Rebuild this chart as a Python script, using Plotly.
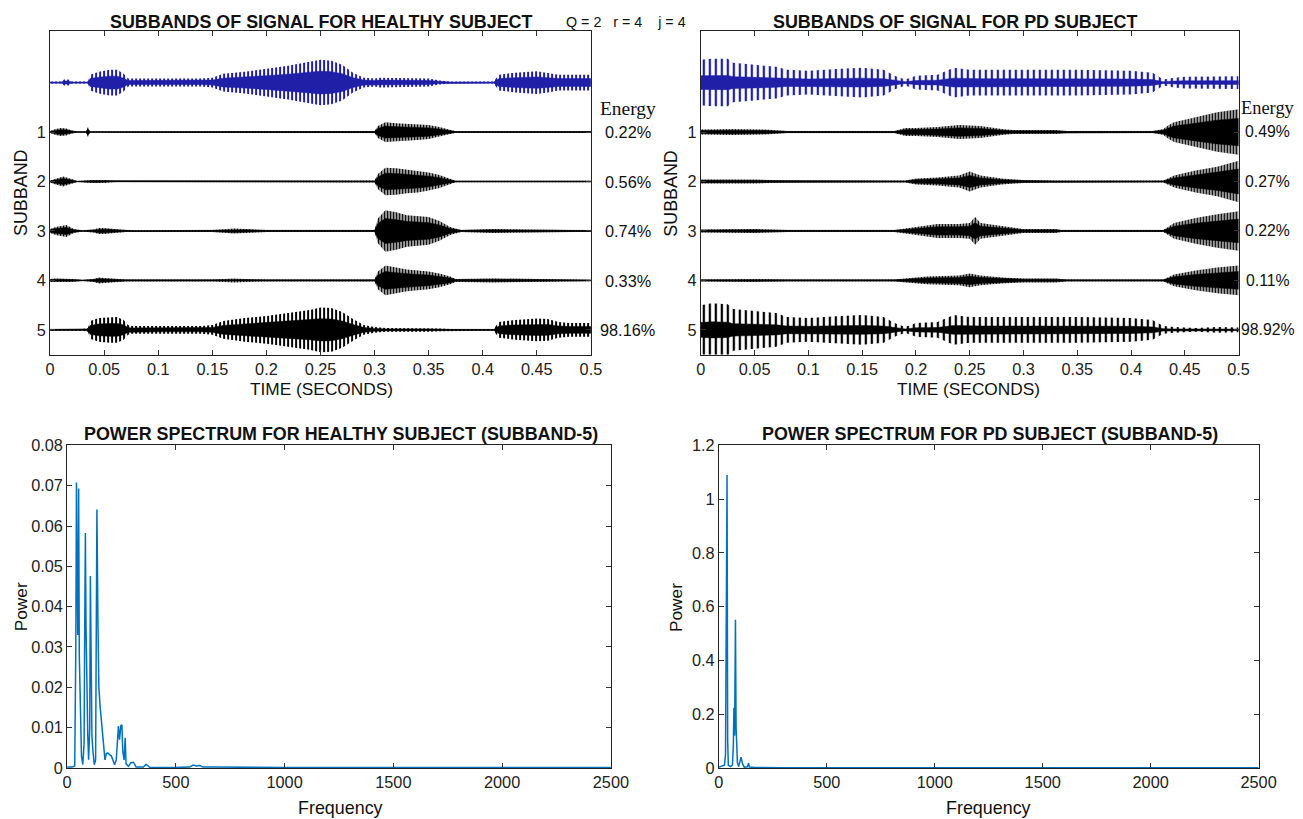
import plotly.graph_objects as go

# figure size (the page keeps its default 8px margin); large enough to cover the picture
PAGE_M = 8
W, H = 1320, 832
# measured relation between page pixels and the photographed picture
CAP_SX, CAP_SY, CAP_OX, CAP_OY = 0.983, 0.98, 4.0, 8.0
FS = 1 / CAP_SY

# ---------------- tick labels / categories ----------------
TIME_TICKS = [0, 0.05, 0.1, 0.15, 0.2, 0.25, 0.3, 0.35, 0.4, 0.45, 0.5]
TIME_TICK_LABELS = ["0", "0.05", "0.1", "0.15", "0.2", "0.25", "0.3", "0.35", "0.4", "0.45", "0.5"]
SUBBAND_ROWS = [1, 2, 3, 4, 5]
HEALTHY_ENERGY = ["0.22%", "0.56%", "0.74%", "0.33%", "98.16%"]
PD_ENERGY = ["0.49%", "0.27%", "0.22%", "0.11%", "98.92%"]
FREQ_TICKS = [0, 500, 1000, 1500, 2000, 2500]
HS_POWER_TICKS = [0, 0.01, 0.02, 0.03, 0.04, 0.05, 0.06, 0.07, 0.08]
PD_POWER_TICKS = [0, 0.2, 0.4, 0.6, 0.8, 1, 1.2]

# ---------------- signal envelopes (time s, half amplitude in subband units) ----------------
# Healthy: original signal (row 0)
H0_T = [0, 0.01, 0.013, 0.017, 0.02, 0.035, 0.037, 0.045, 0.055, 0.062, 0.068, 0.072, 0.075, 0.1, 0.14,
        0.15, 0.16, 0.18, 0.2, 0.22, 0.24, 0.25, 0.26, 0.27, 0.28, 0.29, 0.3, 0.305, 0.35, 0.36, 0.37,
        0.41, 0.415, 0.43, 0.45, 0.46, 0.47, 0.48, 0.5]
H0_A = [0.02, 0.02, 0.06, 0.06, 0.02, 0.02, 0.16, 0.22, 0.26, 0.26, 0.18, 0.08, 0.08, 0.08, 0.08,
        0.1, 0.18, 0.22, 0.28, 0.34, 0.42, 0.46, 0.44, 0.36, 0.2, 0.1, 0.08, 0.1, 0.08, 0.04, 0.02,
        0.02, 0.16, 0.2, 0.23, 0.2, 0.16, 0.16, 0.16]
H1_T = [0, 0.005, 0.01, 0.015, 0.02, 0.025, 0.033, 0.035, 0.037, 0.1, 0.3, 0.303, 0.31, 0.32, 0.33,
        0.34, 0.35, 0.36, 0.37, 0.375, 0.5]
H1_A = [0.02, 0.06, 0.08, 0.07, 0.03, 0.01, 0.01, 0.1, 0.01, 0.015, 0.02, 0.12, 0.2, 0.18, 0.17,
        0.16, 0.14, 0.1, 0.04, 0.015, 0.015]
H2_T = [0, 0.005, 0.012, 0.02, 0.025, 0.04, 0.05, 0.06, 0.3, 0.303, 0.31, 0.32, 0.33, 0.34, 0.35,
        0.36, 0.37, 0.375, 0.5]
H2_A = [0.02, 0.06, 0.1, 0.05, 0.01, 0.03, 0.03, 0.01, 0.02, 0.15, 0.28, 0.27, 0.24, 0.22, 0.18,
        0.13, 0.05, 0.015, 0.015]
H3_T = [0, 0.005, 0.015, 0.022, 0.03, 0.04, 0.045, 0.05, 0.07, 0.08, 0.15, 0.17, 0.18, 0.2, 0.3,
        0.303, 0.31, 0.32, 0.33, 0.34, 0.35, 0.36, 0.37, 0.38, 0.41, 0.5]
H3_A = [0.04, 0.08, 0.12, 0.04, 0.01, 0.03, 0.06, 0.06, 0.02, 0.01, 0.02, 0.05, 0.04, 0.02, 0.02,
        0.25, 0.42, 0.38, 0.32, 0.3, 0.28, 0.2, 0.08, 0.02, 0.04, 0.015]
H4_T = [0, 0.005, 0.02, 0.03, 0.04, 0.045, 0.05, 0.07, 0.15, 0.17, 0.18, 0.2, 0.3, 0.303, 0.31,
        0.32, 0.33, 0.34, 0.35, 0.36, 0.37, 0.375, 0.41, 0.5]
H4_A = [0.03, 0.04, 0.03, 0.01, 0.03, 0.06, 0.05, 0.02, 0.02, 0.04, 0.03, 0.02, 0.02, 0.18, 0.3,
        0.26, 0.22, 0.2, 0.18, 0.14, 0.08, 0.03, 0.04, 0.015]
H5_T = [0, 0.03, 0.035, 0.037, 0.045, 0.055, 0.062, 0.068, 0.072, 0.075, 0.1, 0.14, 0.15, 0.16,
        0.18, 0.2, 0.22, 0.24, 0.25, 0.26, 0.27, 0.28, 0.29, 0.3, 0.31, 0.35, 0.36, 0.37, 0.41,
        0.415, 0.43, 0.45, 0.46, 0.47, 0.48, 0.5]
H5_A = [0.02, 0.02, 0.04, 0.18, 0.24, 0.26, 0.26, 0.2, 0.1, 0.08, 0.08, 0.08, 0.1, 0.18,
        0.24, 0.28, 0.34, 0.4, 0.45, 0.44, 0.36, 0.22, 0.1, 0.06, 0.04, 0.04, 0.03, 0.02, 0.02,
        0.16, 0.2, 0.23, 0.22, 0.16, 0.14, 0.14]

# PD subject
P0_T = [0, 0.01, 0.025, 0.03, 0.05, 0.07, 0.08, 0.1, 0.13, 0.15, 0.17, 0.18, 0.19, 0.2, 0.22,
        0.235, 0.25, 0.26, 0.3, 0.35, 0.4, 0.42, 0.43, 0.44, 0.45, 0.5]
P0_A = [0.46, 0.48, 0.48, 0.4, 0.36, 0.32, 0.26, 0.24, 0.28, 0.3, 0.26, 0.14, 0.06, 0.14, 0.16,
        0.3, 0.26, 0.26, 0.26, 0.26, 0.24, 0.2, 0.06, 0.1, 0.12, 0.13]
P1_T = [0, 0.03, 0.06, 0.08, 0.18, 0.19, 0.2, 0.22, 0.24, 0.26, 0.28, 0.29, 0.33, 0.34, 0.42,
        0.43, 0.435, 0.44, 0.46, 0.48, 0.5]
P1_A = [0.05, 0.06, 0.05, 0.02, 0.02, 0.08, 0.08, 0.1, 0.14, 0.12, 0.06, 0.04, 0.04, 0.02, 0.02,
        0.06, 0.14, 0.2, 0.3, 0.4, 0.46]
P2_T = [0, 0.05, 0.08, 0.19, 0.2, 0.22, 0.24, 0.25, 0.26, 0.28, 0.3, 0.33, 0.43, 0.44, 0.46,
        0.48, 0.5]
P2_A = [0.04, 0.04, 0.02, 0.02, 0.06, 0.08, 0.12, 0.2, 0.12, 0.06, 0.03, 0.02, 0.02, 0.12, 0.22,
        0.3, 0.42]
P3_T = [0, 0.05, 0.08, 0.18, 0.19, 0.2, 0.22, 0.24, 0.25, 0.255, 0.26, 0.28, 0.3, 0.33, 0.335,
        0.43, 0.44, 0.46, 0.48, 0.5]
P3_A = [0.03, 0.04, 0.02, 0.02, 0.05, 0.08, 0.14, 0.14, 0.16, 0.28, 0.16, 0.1, 0.04, 0.04, 0.02,
        0.02, 0.16, 0.26, 0.34, 0.4]
P4_T = [0, 0.05, 0.08, 0.18, 0.19, 0.21, 0.24, 0.25, 0.26, 0.28, 0.3, 0.33, 0.34, 0.43, 0.44,
        0.46, 0.48, 0.5]
P4_A = [0.02, 0.03, 0.02, 0.02, 0.04, 0.08, 0.1, 0.14, 0.1, 0.06, 0.04, 0.04, 0.02, 0.02, 0.12,
        0.2, 0.26, 0.3]
P5_T = [0, 0.01, 0.025, 0.03, 0.05, 0.07, 0.08, 0.1, 0.13, 0.15, 0.17, 0.18, 0.19, 0.2, 0.22,
        0.235, 0.25, 0.26, 0.3, 0.35, 0.4, 0.42, 0.43, 0.44, 0.46, 0.48, 0.5]
P5_A = [0.5, 0.54, 0.52, 0.42, 0.38, 0.34, 0.26, 0.24, 0.28, 0.3, 0.26, 0.14, 0.06, 0.14, 0.16,
        0.3, 0.26, 0.26, 0.26, 0.26, 0.24, 0.2, 0.08, 0.06, 0.04, 0.06, 0.05]

# ---------------- power spectra ----------------
HS_FREQ = [0, 23, 35, 40, 43, 46, 49, 52, 53, 56, 61, 66, 72, 78, 81, 84, 87, 90, 95, 99,
           104, 107, 110, 114, 119, 125, 131, 134, 137, 142, 146, 151, 157, 162, 168, 174, 180, 187, 195, 203,
           210, 218, 226, 232, 236, 241, 247, 252, 256, 262, 267, 271, 282, 293, 305, 317, 351, 363, 369, 381,
           488, 564, 579, 594, 610, 625, 671, 793, 1000, 1500, 2000, 2200, 2300, 2400, 2500]
HS_POWER = [0.0002, 0.0002, 0.0005, 0.03, 0.0708, 0.04, 0.033, 0.05, 0.0693, 0.028, 0.012, 0.003, 0.0008, 0.006, 0.035, 0.0583, 0.035, 0.019, 0.008, 0.002,
            0.01, 0.0476, 0.015, 0.008, 0.004, 0.0008, 0.002, 0.03, 0.0641, 0.035, 0.02, 0.0157, 0.012, 0.011, 0.006, 0.002, 0.0035, 0.0037, 0.0033, 0.003,
            0.002, 0.0008, 0.002, 0.008, 0.0104, 0.007, 0.0105, 0.0107, 0.004, 0.002, 0.0075, 0.001, 0.0004, 0.0013, 0.0014, 0.0002, 0.0002, 0.0009, 0.0007, 0.0001,
            0.0001, 0.0002, 0.0007, 0.0005, 0.0006, 0.0002, 0.0002, 0.0001, 0.0001, 0.0001, 0.0001, 0.0002, 0.0002, 0.0001, 0.0001]
PD_FREQ = [0, 26, 31, 34, 35, 38, 41, 44, 54, 63, 67, 70, 73, 77, 80, 83, 86, 92, 100, 103,
           106, 110, 118, 132, 138, 141, 160, 300, 1000, 2500]
PD_POWER = [0.003, 0.01, 0.05, 0.57, 0.3, 1.09, 0.1, 0.01, 0.005, 0.01, 0.08, 0.224, 0.12, 0.551, 0.15, 0.06, 0.02, 0.005, 0.03, 0.04,
            0.03, 0.015, 0.003, 0.004, 0.018, 0.003, 0.002, 0.001, 0.001, 0.001]

# ---------------- styling ----------------
FONT = "Liberation Sans, Arial, sans-serif"
SERIF = "Liberation Serif, Times New Roman, serif"
SIG_BLUE = "#1f1fa8"
SPEC_BLUE = "#0072BD"
BLACK = "#000000"


def px_x(r):
    css = (r - CAP_OX) / CAP_SX
    return (css - PAGE_M) / W


def px_y(r):
    css = (r - CAP_OY) / CAP_SY
    return 1 - (css - PAGE_M) / H


def fs(v):
    return round(v * FS, 1)


fig = go.Figure()


def add_signal(t, a, row, ax, color, stripe, solidity, core, base_w):
    xs = list(t) + list(t)[::-1]
    ys = [row - v for v in a] + [row + v for v in a][::-1]
    common = dict(xaxis="x" + ax, yaxis="y" + ax, hoverinfo="skip", showlegend=False)
    fig.add_trace(go.Scatter(x=xs, y=ys, mode="lines", fill="toself",
                             line=dict(width=0, color=color),
                             fillcolor="rgba(0,0,0,0)",
                             fillpattern=dict(shape="|", size=stripe, solidity=solidity,
                                              fgcolor=color, fgopacity=1, bgcolor="rgba(0,0,0,0)"),
                             **common))
    cys = [row - v * core for v in a] + [row + v * core for v in a][::-1]
    fig.add_trace(go.Scatter(x=xs, y=cys, mode="lines", fill="toself",
                             line=dict(width=0.5, color=color), fillcolor=color, **common))
    fig.add_trace(go.Scatter(x=[t[0], t[-1]], y=[row, row], mode="lines",
                             line=dict(width=base_w, color=color), **common))


# healthy (axis '' -> x / y)
add_signal(H0_T, H0_A, 0, "", SIG_BLUE, 4, 0.5, 0.5, 1.2)
for T, A, r in [(H1_T, H1_A, 1), (H2_T, H2_A, 2), (H3_T, H3_A, 3), (H4_T, H4_A, 4)]:
    add_signal(T, A, r, "", BLACK, 3, 0.6, 0.6, 1)
add_signal(H5_T, H5_A, 5, "", BLACK, 4, 0.5, 0.5, 1.2)

# PD (axis '2')
add_signal(P0_T, P0_A, 0, "2", SIG_BLUE, 6, 0.38, 0.3, 1.2)
for T, A, r in [(P1_T, P1_A, 1), (P2_T, P2_A, 2), (P3_T, P3_A, 3), (P4_T, P4_A, 4)]:
    add_signal(T, A, r, "2", BLACK, 3, 0.6, 0.6, 1)
add_signal(P5_T, P5_A, 5, "2", BLACK, 6, 0.38, 0.3, 1.2)

# spectra
fig.add_trace(go.Scatter(x=HS_FREQ, y=HS_POWER, mode="lines", line=dict(color=SPEC_BLUE, width=1.5),
                         xaxis="x3", yaxis="y3", showlegend=False))
fig.add_trace(go.Scatter(x=PD_FREQ, y=PD_POWER, mode="lines", line=dict(color=SPEC_BLUE, width=1.5),
                         xaxis="x4", yaxis="y4", showlegend=False))

axis_common = dict(showline=True, linecolor="#222", linewidth=1, mirror="ticks", ticks="inside",
                   ticklen=5, tickcolor="#333", showgrid=False, zeroline=False,
                   tickfont=dict(family=FONT, size=fs(16), color="#222"))

ROW_RANGE = [5.5, -1.04]
TOP_Y = [px_y(354), px_y(30)]
BOT_Y = [px_y(768), px_y(445)]

fig.update_layout(
    width=W, height=H, margin=dict(l=0, r=0, t=0, b=0),
    paper_bgcolor="white", plot_bgcolor="white", showlegend=False,
    xaxis=dict(domain=[px_x(49), px_x(590)], range=[0, 0.5], tickvals=TIME_TICKS,
               ticktext=TIME_TICK_LABELS, anchor="y", **axis_common),
    yaxis=dict(domain=TOP_Y, range=ROW_RANGE, tickvals=SUBBAND_ROWS,
               ticktext=[str(r) for r in SUBBAND_ROWS], anchor="x", **axis_common),
    xaxis2=dict(domain=[px_x(700), px_x(1238)], range=[0, 0.5], tickvals=TIME_TICKS,
                ticktext=TIME_TICK_LABELS, anchor="y2", **axis_common),
    yaxis2=dict(domain=TOP_Y, range=ROW_RANGE, tickvals=SUBBAND_ROWS,
                ticktext=[str(r) for r in SUBBAND_ROWS], anchor="x2", **axis_common),
    xaxis3=dict(domain=[px_x(66), px_x(610)], range=[0, 2500], tickvals=FREQ_TICKS,
                anchor="y3", **axis_common),
    yaxis3=dict(domain=BOT_Y, range=[0, 0.08], tickvals=HS_POWER_TICKS,
                ticktext=[f"{v:g}" for v in HS_POWER_TICKS], anchor="x3", **axis_common),
    xaxis4=dict(domain=[px_x(718), px_x(1258)], range=[0, 2500], tickvals=FREQ_TICKS,
                anchor="y4", **axis_common),
    yaxis4=dict(domain=BOT_Y, range=[0, 1.2], tickvals=PD_POWER_TICKS,
                ticktext=[f"{v:g}" for v in PD_POWER_TICKS], anchor="x4", **axis_common),
)

ann = []


def text(x, y, s, size=16, bold=False, angle=0, family=FONT, xanchor="center", color="#111"):
    ann.append(dict(x=px_x(x), y=px_y(y), xref="paper", yref="paper", text=(f"<b>{s}</b>" if bold else s),
                    showarrow=False, font=dict(family=family, size=fs(size), color=color),
                    textangle=angle, xanchor=xanchor, yanchor="middle"))


text(320, 21, "SUBBANDS OF SIGNAL FOR HEALTHY SUBJECT", 17.5, True)
text(955, 21, "SUBBANDS OF SIGNAL FOR PD SUBJECT", 17.5, True)
text(625, 21, "Q = 2&nbsp;&nbsp;&nbsp;r = 4&nbsp;&nbsp;&nbsp;&nbsp;j = 4", 14)
text(340, 434, "POWER SPECTRUM FOR HEALTHY SUBJECT (SUBBAND-5)", 17.5, True)
text(989, 434, "POWER SPECTRUM FOR PD SUBJECT (SUBBAND-5)", 17.5, True)
text(320, 388, "TIME (SECONDS)", 17)
text(968, 388, "TIME (SECONDS)", 17)
text(20, 192, "SUBBAND", 17.5, angle=-90)
text(670, 192, "SUBBAND", 17.5, angle=-90)
text(20, 607, "Power", 17, angle=-90)
text(675, 607, "Power", 17, angle=-90)
text(340, 808, "Frequency", 17.5)
text(988, 808, "Frequency", 17.5)
text(627, 107, "Energy", 19, family=SERIF)
text(1267, 107, "Energy", 18, family=SERIF)
ROW_PX = [131, 181, 230, 280, 329]
for i, r in enumerate(SUBBAND_ROWS):
    text(627, ROW_PX[i], HEALTHY_ENERGY[i], 16)
    text(1267, ROW_PX[i], PD_ENERGY[i], 15.5)

fig.update_layout(annotations=ann)
fig.write_html("out.html")
